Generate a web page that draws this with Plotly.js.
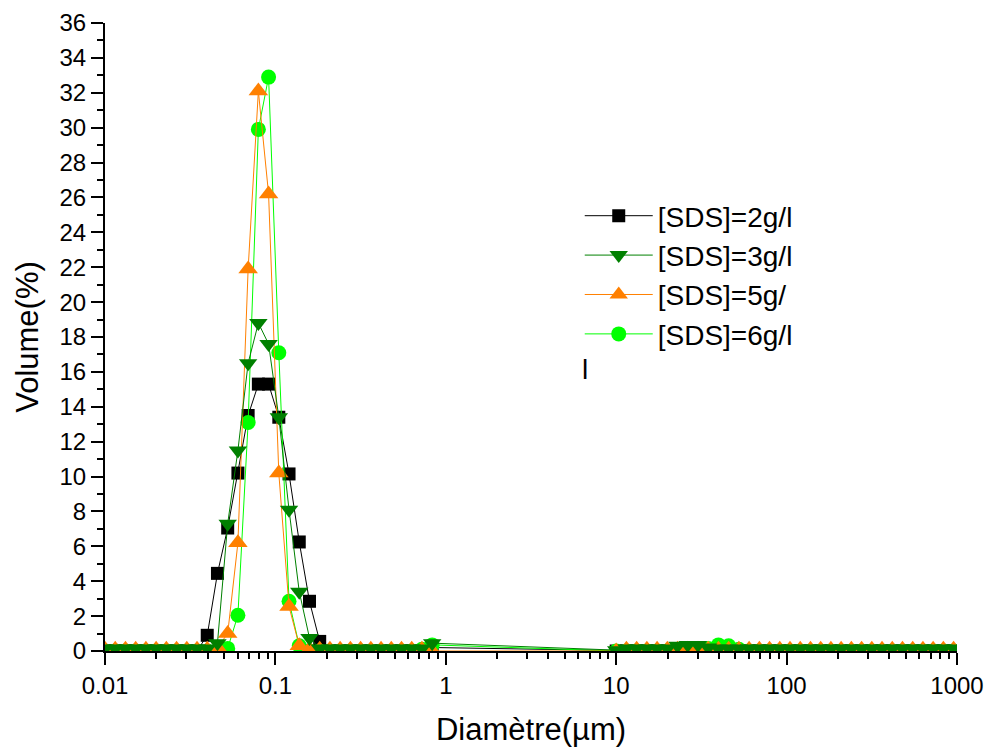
<!DOCTYPE html>
<html>
<head>
<meta charset="utf-8">
<script src="https://cdn.plot.ly/plotly-3.0.1.min.js"></script>
<style>html,body{margin:0;padding:0;background:#fff;}#chart{width:986px;height:747px;}</style>
</head>
<body>
<div id="chart"></div>
<script>
// Particle diameters (µm) of the measured size classes
const diameters = [
  0.01, 0.011482, 0.013183, 0.015136, 0.017378, 0.019953, 0.022909, 0.026303, 0.030200, 0.034674,
  0.039811, 0.045709, 0.052481, 0.060256, 0.069183, 0.079433, 0.091201, 0.10471, 0.12023, 0.13804,
  0.15849, 0.18197, 0.20893, 0.23988, 0.27542, 0.31623, 0.36308, 0.41687, 0.47863, 0.54954,
  0.63096, 0.72444, 0.83176,
  10, 11.482, 13.183, 15.136, 17.378, 19.953, 22.909, 26.303, 30.200, 34.674,
  39.811, 45.709, 52.481, 60.256, 69.183, 79.433, 91.201, 104.71, 120.23, 138.04,
  158.49, 181.97, 208.93, 239.88, 275.42, 316.23, 363.08, 416.87, 478.63, 549.54,
  630.96, 724.44, 831.76, 954.99
];

const sds2 = [
  0, 0, 0, 0, 0, 0, 0, 0, 0, 0,
  0.9, 4.45, 7.05, 10.2, 13.5, 15.3, 15.3, 13.4, 10.15, 6.25,
  2.85, 0.55, 0, 0, 0, 0, 0, 0, 0, 0,
  0, 0, 0.2,
  0, 0, 0, 0, 0, 0, 0, 0, 0, 0,
  0, 0, 0, 0, 0, 0, 0, 0, 0, 0,
  0, 0, 0, 0, 0, 0, 0, 0, 0, 0,
  0, 0, 0, 0
];

const sds3 = [
  0.15, 0.15, 0.15, 0.15, 0.15, 0.15, 0.15, 0.15, 0.15, 0.15,
  0.15, 0.45, 7.3, 11.5, 16.5, 18.8, 17.6, 13.4, 8.1, 3.4,
  0.75, 0.15, 0.15, 0.15, 0.15, 0.15, 0.15, 0.15, 0.15, 0.15,
  0.15, 0.15, 0.45,
  0.05, 0.15, 0.15, 0.15, 0.15, 0.15, 0.3, 0.35, 0.35, 0.2,
  0.15, 0.15, 0.15, 0.15, 0.15, 0.15, 0.15, 0.15, 0.15, 0.15,
  0.15, 0.15, 0.15, 0.15, 0.15, 0.15, 0.15, 0.15, 0.15, 0.15,
  0.15, 0.15, 0.15, 0.15
];

const sds5 = [
  0.1, 0.1, 0.1, 0.1, 0.1, 0.1, 0.1, 0.1, 0.1, 0.1,
  0.1, 0.2, 1.0, 6.2, 21.9, 32.1, 26.2, 10.2, 2.55, 0.3,
  0.1, 0.1, 0.1, 0.1, 0.1, 0.1, 0.1, 0.1, 0.1, 0.1,
  0.1, 0.1, 0,
  0, 0.1, 0.1, 0.1, 0.1, 0.1, 0.1, 0.1, 0.1, 0.1,
  0.1, 0.1, 0.1, 0.1, 0.1, 0.1, 0.1, 0.1, 0.1, 0.1,
  0.1, 0.1, 0.1, 0.1, 0.1, 0.1, 0.1, 0.1, 0.1, 0.1,
  0.1, 0.1, 0.1, 0.1
];

const sds6 = [
  0, 0, 0, 0, 0, 0, 0, 0, 0, 0,
  0, 0, 0.15, 2.05, 13.1, 29.9, 32.9, 17.1, 2.85, 0.3,
  0, 0, 0, 0, 0, 0, 0, 0, 0, 0,
  0, 0.1, 0.35,
  0, 0, 0, 0, 0, 0, 0, 0, 0, 0.15,
  0.35, 0.3, 0.1, 0, 0, 0, 0, 0, 0, 0,
  0, 0, 0, 0, 0, 0, 0, 0, 0, 0,
  0, 0, 0, 0
];

const seriesNames = ['[SDS]=2g/l', '[SDS]=3g/l', '[SDS]=5g/', '[SDS]=6g/l'];
const xTickVals = [0.01, 0.1, 1, 10, 100, 1000];
const xTickText = ['0.01', '0.1', '1', '10', '100', '1000'];

const FONT = 'Arial, "Liberation Sans", sans-serif';

function mk(y, name, color, symbol, size, rank) {
  return {
    x: diameters, y: y, name: name, type: 'scatter', mode: 'lines+markers',
    line: {color: color, width: 1},
    marker: {color: color, symbol: symbol, size: size, line: {width: 0}},
    legendrank: rank, legendgroup: name, cliponaxis: true
  };
}

// draw order: black, light green, orange, dark green (dark green on top)
const traces = [
  mk(sds2, seriesNames[0], '#000000', 'square', 13, 1),
  mk(sds6, seriesNames[3], '#00FF00', 'circle', 15, 4),
  mk(sds5, seriesNames[2], '#FF8000', 'triangle-up', 17, 3),
  mk(sds3, seriesNames[1], '#008000', 'triangle-down', 16, 2)
];

const layout = {
  width: 986, height: 747,
  margin: {l: 105, r: 29, t: 23, b: 96, pad: 0},
  paper_bgcolor: '#fff', plot_bgcolor: '#fff',
  font: {family: FONT, color: '#000', size: 24},
  showlegend: true,
  legend: {
    x: 0.5572, y: 0.7325, xanchor: 'left', yanchor: 'top',
    font: {family: FONT, size: 28, color: '#000'},
    bgcolor: 'rgba(0,0,0,0)', borderwidth: 0,
    itemwidth: 68, tracegroupgap: 0, traceorder: 'normal'
  },
  xaxis: {
    type: 'log', range: [-2, 3],
    tickmode: 'array', tickvals: xTickVals, ticktext: xTickText,
    ticks: 'outside', ticklen: 12, tickwidth: 2, tickcolor: '#000',
    showline: true, linewidth: 2, linecolor: '#000', mirror: false,
    showgrid: false, zeroline: false,
    tickfont: {family: FONT, size: 24, color: '#000'},
    minor: {dtick: 'D1', ticks: 'outside', ticklen: 6, tickwidth: 2, tickcolor: '#000', showgrid: false},
    title: {text: 'Diamètre(µm)', font: {family: FONT, size: 31, color: '#000'}, standoff: 22},
    automargin: false
  },
  yaxis: {
    range: [0, 36], dtick: 2, tick0: 0,
    ticks: 'outside', ticklen: 12, tickwidth: 2, tickcolor: '#000',
    showline: true, linewidth: 2, linecolor: '#000', mirror: false,
    showgrid: false, zeroline: false,
    tickfont: {family: FONT, size: 24, color: '#000'},
    minor: {dtick: 1, ticks: 'outside', ticklen: 6, tickwidth: 2, tickcolor: '#000', showgrid: false},
    title: {text: 'Volume(%)', font: {family: FONT, size: 31, color: '#000'}, standoff: 12},
    automargin: false
  },
  annotations: [{
    xref: 'paper', yref: 'paper', x: 0.5575, y: 0.4475,
    xanchor: 'left', yanchor: 'middle', showarrow: false,
    text: 'l', font: {family: FONT, size: 28, color: '#000'}
  }]
};

Plotly.newPlot('chart', traces, layout, {displayModeBar: false, staticPlot: true});
</script>
</body>
</html>
